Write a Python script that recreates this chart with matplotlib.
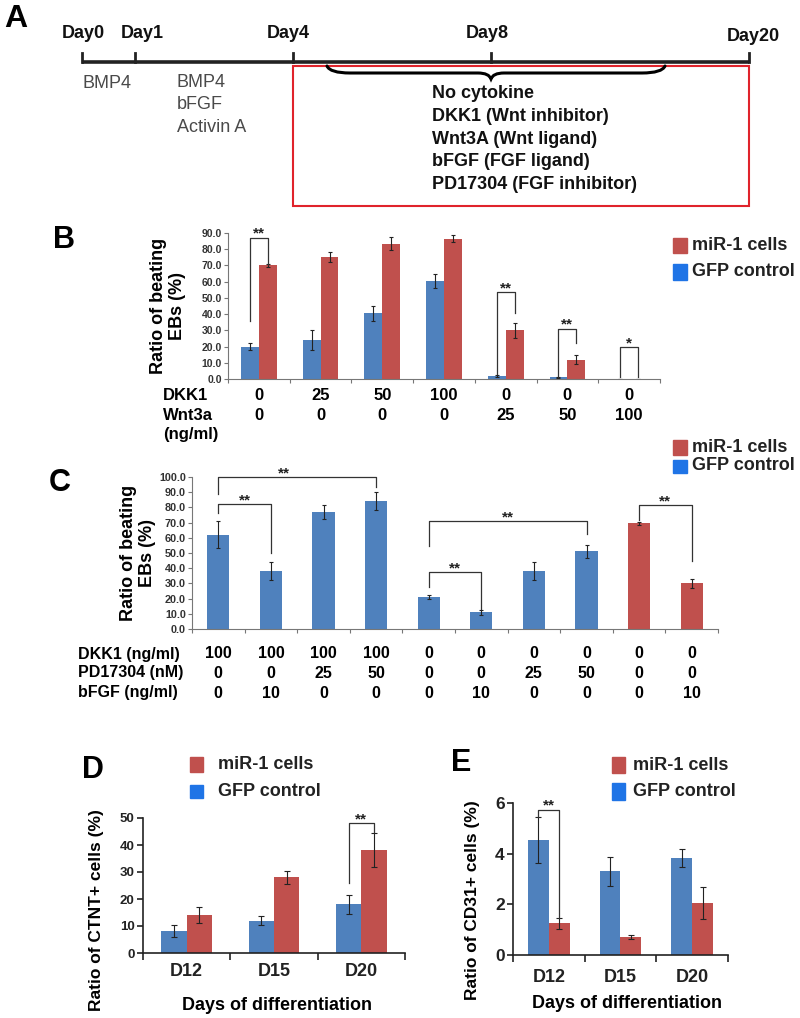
import numpy as np
import matplotlib
matplotlib.use('Agg')
import matplotlib.pyplot as plt
from matplotlib.patches import Rectangle, PathPatch
from matplotlib.path import Path
from matplotlib.transforms import blended_transform_factory

plt.rcParams['font.family'] = ['Liberation Sans', 'DejaVu Sans']
plt.rcParams['font.weight'] = 'bold'

BLUE = '#4F81BD'
RED = '#C0504D'
LEG_BLUE = '#1f74e6'

# ---------------- data ----------------
timeline_days = ['Day0', 'Day1', 'Day4', 'Day8', 'Day20']
early_cytokines = ['BMP4']
mid_cytokines = ['BMP4', 'bFGF', 'Activin A']
late_conditions = ['No cytokine', 'DKK1 (Wnt inhibitor)', 'Wnt3A (Wnt ligand)',
                   'bFGF (FGF ligand)', 'PD17304 (FGF inhibitor)']

# panel B
b_dkk1 = ['0', '25', '50', '100', '0', '0', '0']
b_wnt3a = ['0', '0', '0', '0', '25', '50', '100']
b_gfp = [20, 24, 40.5, 60.5, 2, 1, 0]
b_gfp_err = [2, 6, 4.5, 4.5, 0.5, 0.5, 0]
b_mir = [70, 75, 83.5, 86.5, 30, 12, 0]
b_mir_err = [1, 3, 4, 2, 4.5, 2.5, 0]

# panel C
c_dkk1 = ['100', '100', '100', '100', '0', '0', '0', '0', '0', '0']
c_pd = ['0', '0', '25', '50', '0', '0', '25', '50', '0', '0']
c_bfgf = ['0', '10', '0', '0', '0', '10', '0', '0', '0', '10']
c_vals = [62, 38, 77, 84, 21, 11, 38, 51, 69.5, 30]
c_err = [9, 6, 4.5, 6, 1.5, 1.5, 6, 4.5, 1, 3]
c_cells = ['gfp'] * 8 + ['mir'] * 2

# panels D and E
days = ['D12', 'D15', 'D20']
d_gfp = [8, 12, 18]
d_gfp_err = [2.2, 1.6, 3.5]
d_mir = [14, 28, 38]
d_mir_err = [3, 2.5, 6.3]
e_gfp = [4.55, 3.3, 3.83]
e_gfp_err = [0.9, 0.58, 0.35]
e_mir = [1.25, 0.72, 2.05]
e_mir_err = [0.22, 0.07, 0.63]

W, H = 800, 1018
fig = plt.figure(figsize=(W / 100, H / 100), dpi=100)

# overlay in pixel coordinates for schematic, labels and legends
ov = fig.add_axes([0, 0, 1, 1])
ov.set_xlim(0, W)
ov.set_ylim(H, 0)
ov.axis('off')


def px_axes(x0, x1, ytop, ybot):
    ax = fig.add_axes([x0 / W, 1 - ybot / H, (x1 - x0) / W, (ybot - ytop) / H])
    ax.set_facecolor('none')
    return ax


def bracket(ax, xl, xr, top, lf, rf, label, xt=None):
    ax.plot([xl, xl, xr, xr], [lf, top, top, rf], color='#333333', lw=0.9, clip_on=False)
    ax.annotate(label, ((xl + xr) / 2 if xt is None else xt, top), xytext=(0, 0),
                textcoords='offset points', ha='center', va='baseline',
                fontsize=11, annotation_clip=False, color='#222222')


def style_small(ax, ymax, step, fs):
    for s in ['top', 'right']:
        ax.spines[s].set_visible(False)
    for s in ['left', 'bottom']:
        ax.spines[s].set_color('#777777')
        ax.spines[s].set_linewidth(0.8)
    ax.set_ylim(0, ymax)
    ax.set_yticks(np.arange(0, ymax + 0.01, step))
    ax.set_yticklabels(['%.1f' % v for v in np.arange(0, ymax + 0.01, step)])
    ax.tick_params(axis='y', direction='out', length=3, width=0.8, color='#777777',
                   labelsize=fs, labelcolor='#333333', pad=1.5)
    ax.tick_params(axis='x', direction='out', length=3, width=0.8, color='#777777')


def legend_pair(x, y_mir, y_gfp, sq_w, sq_h_mir, sq_h_gfp, tx):
    ov.add_patch(Rectangle((x, y_mir - sq_h_mir / 2), sq_w, sq_h_mir, color=RED))
    ov.add_patch(Rectangle((x, y_gfp - sq_h_gfp / 2), sq_w, sq_h_gfp, color=LEG_BLUE))
    ov.text(tx, y_mir, 'miR-1 cells', fontsize=13, ha='left', va='center', color='#222222')
    ov.text(tx, y_gfp, 'GFP control', fontsize=13, ha='left', va='center', color='#222222')


# ---------------- panel A ----------------
day_x = [82, 135, 293, 491, 749]
day_label_x = [83, 142, 288, 487, 753]
day_label_y = [33, 33, 33, 33, 36]
ov.text(16, 19, 'A', fontsize=23, ha='center', va='center')
ov.plot([day_x[0], day_x[-1]], [62, 62], color='#222222', lw=2.6, solid_capstyle='butt')
for x, lx, ly, lab in zip(day_x, day_label_x, day_label_y, timeline_days):
    ov.plot([x, x], [53, 62], color='#222222', lw=2)
    ov.text(lx, ly, lab, fontsize=13, ha='center', va='center', color='#111111')

ov.add_patch(Rectangle((day_x[2], 66), day_x[-1] - day_x[2], 206 - 66, fill=False,
                       edgecolor='#e0232b', lw=1.5))

brace_verts = [(327, 66), (330, 73), (350, 73), (478, 73), (489, 73), (491, 79),
               (493, 73), (504, 73), (642, 73), (662, 73), (665, 66)]
brace_codes = [Path.MOVETO, Path.CURVE3, Path.CURVE3, Path.LINETO, Path.CURVE3, Path.CURVE3,
               Path.CURVE3, Path.CURVE3, Path.LINETO, Path.CURVE3, Path.CURVE3]
ov.add_patch(PathPatch(Path(brace_verts, brace_codes), fill=False, lw=2.2,
                       edgecolor='black', capstyle='round'))

for lab in early_cytokines:
    ov.text(82, 83, lab, fontsize=13, fontweight='normal', ha='left', va='center', color='#4a4a4a')
for lab, y in zip(mid_cytokines, [82, 104, 127]):
    ov.text(177, y, lab, fontsize=13, fontweight='normal', ha='left', va='center', color='#4a4a4a')
for lab, y in zip(late_conditions, [93, 116, 139, 161, 184]):
    ov.text(432, y, lab, fontsize=13, ha='left', va='center', color='#111111')

# ---------------- panel B ----------------
axB = px_axes(228, 660, 233, 379)
xb = np.arange(len(b_gfp))
wb = 0.29
axB.bar(xb - wb / 2, b_gfp, wb, color=BLUE)
axB.bar(xb + wb / 2, b_mir, wb, color=RED)
axB.errorbar(xb - wb / 2, b_gfp, yerr=b_gfp_err, fmt='none', ecolor='#222222',
             elinewidth=0.8, capsize=1.2, capthick=0.8)
axB.errorbar(xb + wb / 2, b_mir, yerr=b_mir_err, fmt='none', ecolor='#222222',
             elinewidth=0.8, capsize=1.2, capthick=0.8)
axB.set_xlim(-0.5, len(b_gfp) - 0.5)
style_small(axB, 90, 10, 7.5)
axB.set_xticks(np.arange(-0.5, len(b_gfp) + 0.5, 1))
axB.set_xticklabels([])

bracket(axB, 0 - wb / 2, 0 + wb / 2, 87, 36, 70, '**')
bracket(axB, 4 - wb / 2, 4 + wb / 2, 53.5, 3, 40.5, '**')
bracket(axB, 5 - wb / 2, 5 + wb / 2, 31, 1.5, 22, '**')
bracket(axB, 6 - wb / 2, 6 + wb / 2, 19.7, 1, 1, '*')

ov.text(64, 240, 'B', fontsize=22, ha='center', va='center')
ov.text(168, 306, 'Ratio of beating\nEBs (%)', fontsize=13, rotation=90, ha='center',
        va='center', multialignment='center', linespacing=1.15)
legend_pair(673, 245.5, 272, 14, 15, 16, 692)

tb = blended_transform_factory(axB.transData, ov.transData)
for lab, y in zip(['DKK1', 'Wnt3a', '(ng/ml)'], [396, 415, 435]):
    ov.text(163, y, lab, fontsize=12, ha='left', va='center')
for i, (d, w) in enumerate(zip(b_dkk1, b_wnt3a)):
    axB.text(i, 396, d, transform=tb, fontsize=12, ha='center', va='center')
    axB.text(i, 415, w, transform=tb, fontsize=12, ha='center', va='center')

# ---------------- panel C ----------------
axC = px_axes(192, 718, 477, 629)
xc = np.arange(len(c_vals))
wc = 0.42
c_colors = [BLUE if c == 'gfp' else RED for c in c_cells]
axC.bar(xc, c_vals, wc, color=c_colors)
axC.errorbar(xc, c_vals, yerr=c_err, fmt='none', ecolor='#222222',
             elinewidth=0.8, capsize=1.2, capthick=0.8)
axC.set_xlim(-0.5, len(c_vals) - 0.5)
style_small(axC, 100, 10, 7.8)
axC.set_xticks(np.arange(-0.5, len(c_vals) + 0.5, 1))
axC.set_xticklabels([])

bracket(axC, 0, 3, 100, 89, 93.5, '**', xt=1.25)
bracket(axC, 0, 1, 82, 76, 50, '**')
bracket(axC, 4, 7, 71, 54.6, 62.5, '**')
bracket(axC, 4, 5, 37.5, 27.6, 13, '**')
bracket(axC, 8, 9, 81.5, 72, 45, '**')

ov.text(60, 483, 'C', fontsize=22, ha='center', va='center')
ov.text(138, 553, 'Ratio of beating\nEBs (%)', fontsize=13, rotation=90, ha='center',
        va='center', multialignment='center', linespacing=1.15)
legend_pair(673, 447.5, 466, 14, 15, 13, 692)

tc = blended_transform_factory(axC.transData, ov.transData)
for lab, y in zip(['DKK1 (ng/ml)', 'PD17304 (nM)', 'bFGF (ng/ml)'], [654, 673, 693]):
    ov.text(78, y, lab, fontsize=11.5, ha='left', va='center')
for i, (d, p, f) in enumerate(zip(c_dkk1, c_pd, c_bfgf)):
    axC.text(i, 654, d, transform=tc, fontsize=11.5, ha='center', va='center')
    axC.text(i, 673, p, transform=tc, fontsize=11.5, ha='center', va='center')
    axC.text(i, 693, f, transform=tc, fontsize=11.5, ha='center', va='center')


# ---------------- panels D and E ----------------
def day_panel(ax, gfp, gfp_err, mir, mir_err, ymax, step, yfs, pad):
    x = np.arange(len(days))
    w = 0.29
    ax.bar(x - w / 2, gfp, w, color=BLUE)
    ax.bar(x + w / 2, mir, w, color=RED)
    ax.errorbar(x - w / 2, gfp, yerr=gfp_err, fmt='none', ecolor='#222222',
                elinewidth=0.8, capsize=2.5, capthick=0.8)
    ax.errorbar(x + w / 2, mir, yerr=mir_err, fmt='none', ecolor='#222222',
                elinewidth=0.8, capsize=2.5, capthick=0.8)
    ax.set_xlim(-0.5, len(days) - 0.5)
    ax.set_ylim(0, ymax)
    ax.set_yticks(np.arange(0, ymax + 0.01, step))
    for s in ['top', 'right']:
        ax.spines[s].set_visible(False)
    for s in ['left', 'bottom']:
        ax.spines[s].set_color('#222222')
        ax.spines[s].set_linewidth(1.2)
    ax.set_xticks(x)
    ax.set_xticklabels(days)
    ax.set_xticks(np.arange(-0.5, len(days) + 0.5, 1), minor=True)
    ax.tick_params(axis='x', which='major', length=0, labelsize=13, pad=pad, labelcolor='#222222')
    ax.tick_params(axis='x', which='minor', direction='out', length=5, width=1.2, color='#222222')
    ax.tick_params(axis='y', direction='out', length=4, width=1.2, color='#222222',
                   labelsize=yfs, labelcolor='#222222', pad=2)
    return w


axD = px_axes(143, 405, 818, 953)
wd = day_panel(axD, d_gfp, d_gfp_err, d_mir, d_mir_err, 50, 10, 9.5, 7)
bracket(axD, 2 - wd / 2, 2 + wd / 2, 48, 26, 45, '**')
ov.text(93, 770, 'D', fontsize=22, ha='center', va='center')
ov.text(97, 910, 'Ratio of CTNT+ cells (%)', fontsize=12.5, rotation=90, ha='center', va='center')
ov.text(277, 1005, 'Days of differentiation', fontsize=13, ha='center', va='center')
legend_pair(190, 764.5, 791.5, 13, 15, 13, 218)

axE = px_axes(513, 728, 803, 955)
we = day_panel(axE, e_gfp, e_gfp_err, e_mir, e_mir_err, 6, 2, 12.5, 10)
bracket(axE, 0 - we / 2, 0 + we / 2, 5.73, 5.45, 1.45, '**')
ov.text(461, 763, 'E', fontsize=22, ha='center', va='center')
ov.text(472, 900, 'Ratio of CD31+ cells (%)', fontsize=12.5, rotation=90, ha='center', va='center')
ov.text(627, 1003, 'Days of differentiation', fontsize=13, ha='center', va='center')
legend_pair(612, 765, 791.5, 13, 16, 17, 633)

fig.savefig('out.png', dpi=100)
